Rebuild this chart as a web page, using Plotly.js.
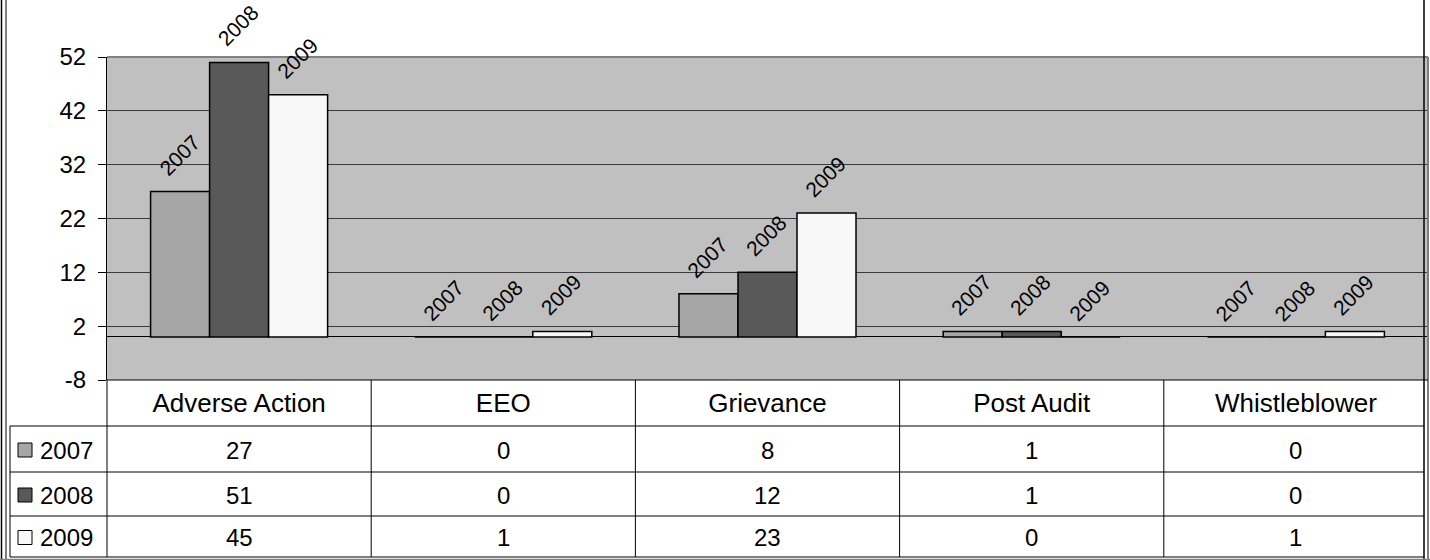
<!DOCTYPE html>
<html>
<head>
<meta charset="utf-8">
<script src="https://cdn.plot.ly/plotly-3.0.1.min.js"></script>
<style>html,body{margin:0;padding:0;background:#fff;}#chart{width:1430px;height:560px;}</style>
</head>
<body>
<div id="chart"></div>
<script>
// ---- data ----
var categories = ['Adverse Action', 'EEO', 'Grievance', 'Post Audit', 'Whistleblower'];
var seriesNames = ['2007', '2008', '2009'];
var values2007 = [27, 0, 8, 1, 0];
var values2008 = [51, 0, 12, 1, 0];
var values2009 = [45, 1, 23, 0, 1];
var yTickVals = [-8, 2, 12, 22, 32, 42, 52];

// ---- styles ----
var seriesValues = [values2007, values2008, values2009];
var colors = ['#a6a6a6', '#595959', '#f8f8f8'];
var W = 1430, H = 560;
var L = 107, R = 2, T = 57, B = 180;
var plotW = W - L - R, plotH = H - T - B;
function px(x) { return (x - L) / plotW; }
function py(y) { return (H - B - y) / plotH; }
var FONT = 'Liberation Sans, Arial, sans-serif';

var traces = seriesNames.map(function (n, i) {
  return {
    type: 'bar', name: n, x: categories, y: seriesValues[i],
    marker: { color: colors[i], line: { color: '#000', width: 1.5 } },
    hoverinfo: 'x+y+name', cliponaxis: false
  };
});

var annotations = [];
var barPx = plotW / categories.length * (1 - 0.33) / 3;
seriesNames.forEach(function (n, i) {
  categories.forEach(function (c, j) {
    annotations.push({
      x: c, y: seriesValues[i][j], xref: 'x', yref: 'y', text: n,
      textangle: -45, showarrow: false, xanchor: 'center', yanchor: 'bottom',
      xshift: (i - 1) * barPx - 1, yshift: 9,
      font: { family: FONT, size: 21, color: '#000' }
    });
  });
});

// table cells
var rowCenters = [450, 495, 537.5];
seriesNames.forEach(function (n, i) {
  categories.forEach(function (c, j) {
    annotations.push({
      x: c, y: py(rowCenters[i]), xref: 'x', yref: 'paper', text: String(seriesValues[i][j]),
      showarrow: false, xanchor: 'center', yanchor: 'middle',
      font: { family: FONT, size: 24, color: '#000' }
    });
  });
  annotations.push({
    x: px(38), y: py(rowCenters[i]), xref: 'paper', yref: 'paper', text: n,
    showarrow: false, xanchor: 'left', yanchor: 'middle',
    font: { family: FONT, size: 24, color: '#000' }
  });
});

var shapes = [];
function hline(y, x0, x1, color, w) {
  shapes.push({ type: 'line', xref: 'paper', yref: 'paper', x0: px(x0), x1: px(x1), y0: py(y), y1: py(y), line: { color: color, width: w } });
}
function vline(x, y0, y1, color, w) {
  shapes.push({ type: 'line', xref: 'paper', yref: 'paper', x0: px(x), x1: px(x), y0: py(y0), y1: py(y1), line: { color: color, width: w } });
}
// plot border
hline(57, 107, 1428, '#808080', 2);
vline(1428, 57, 560, '#808080', 2);
hline(380, 107, 1428, '#000', 1);
// table
[426, 472, 516, 557].forEach(function (y) { hline(y, 10, 1424, '#000', 1); });
vline(10, 426, 557, '#000', 1);
vline(107, 380, 557, '#000', 1);
for (var k = 1; k < categories.length; k++) {
  shapes.push({ type: 'line', xref: 'paper', yref: 'paper', x0: k / categories.length, x1: k / categories.length, y0: py(380), y1: py(557), line: { color: '#000', width: 1 } });
}
// legend keys
seriesNames.forEach(function (n, i) {
  var cy = rowCenters[i];
  shapes.push({ type: 'rect', xref: 'paper', yref: 'paper', x0: px(18), x1: px(32), y0: py(cy - 7), y1: py(cy + 7), fillcolor: colors[i], line: { color: '#000', width: 1 } });
});
// outer frame
vline(1.5, 0, 560, '#000', 1.5);
vline(6, 0, 560, '#000', 1);
vline(1424, 0, 560, '#000', 1.5);
hline(559.5, 0, 1430, '#808080', 1.5);

var layout = {
  width: W, height: H,
  margin: { l: L, r: R, t: T, b: B, pad: 0 },
  paper_bgcolor: '#fff', plot_bgcolor: '#c0c0c0',
  barmode: 'group', bargap: 0.33, bargroupgap: 0,
  showlegend: false,
  font: { family: FONT, size: 24, color: '#000' },
  xaxis: {
    type: 'category', categoryarray: categories, categoryorder: 'array',
    showgrid: false, zeroline: false, showline: false, ticks: '',
    tickfont: { family: FONT, size: 26, color: '#000' }, ticklabelstandoff: 5
  },
  yaxis: {
    range: [-8, 52], tickvals: yTickVals, ticktext: yTickVals.map(String),
    ticks: 'outside', ticklen: 8, tickcolor: '#000', tickwidth: 1,
    showline: true, linecolor: '#000', linewidth: 1,
    showgrid: true, gridcolor: '#3a3a3a', gridwidth: 1,
    zeroline: true, zerolinecolor: '#000', zerolinewidth: 1,
    tickfont: { family: FONT, size: 24, color: '#000' }, ticklabelstandoff: 7
  },
  annotations: annotations,
  shapes: shapes
};

Plotly.newPlot('chart', traces, layout, { displayModeBar: false, staticPlot: true });
</script>
</body>
</html>
